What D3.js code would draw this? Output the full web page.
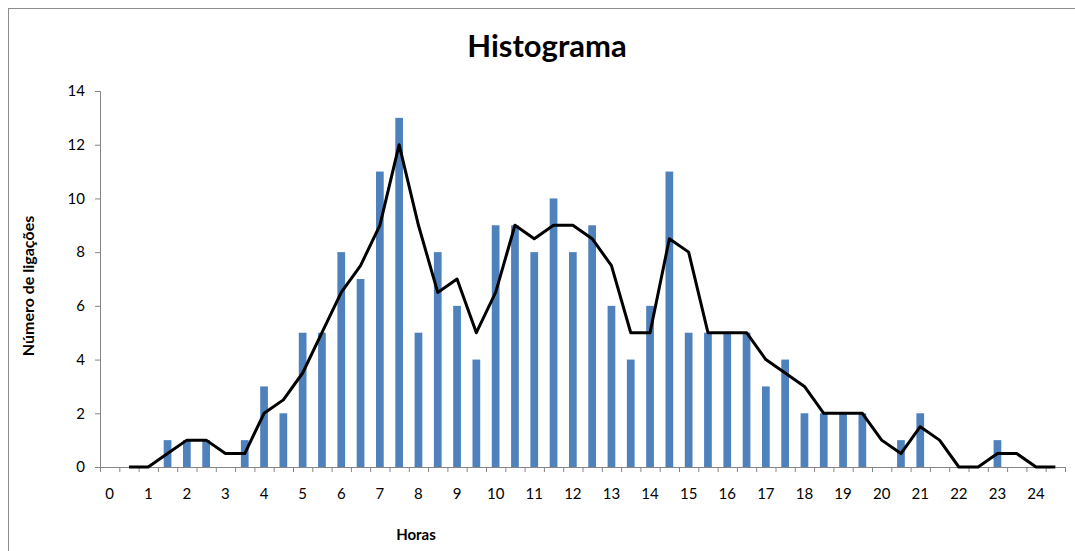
<!DOCTYPE html>
<html>
<head>
<meta charset="utf-8">
<script src="https://cdn.jsdelivr.net/npm/d3@7"></script>
<style>
  html, body { margin: 0; padding: 0; background: #fff; }
  svg { display: block; font-family: Lato, "Open Sans", sans-serif; }
</style>
</head>
<body>
<svg id="chart" width="1075" height="551"></svg>
<script>
// categories: half-hour bins
const hours = [0, 0.5, 1, 1.5, 2, 2.5, 3, 3.5, 4, 4.5, 5, 5.5, 6, 6.5, 7, 7.5, 8, 8.5, 9, 9.5,
  10, 10.5, 11, 11.5, 12, 12.5, 13, 13.5, 14, 14.5, 15, 15.5, 16, 16.5, 17, 17.5, 18, 18.5, 19, 19.5,
  20, 20.5, 21, 21.5, 22, 22.5, 23, 23.5, 24, 24.5];

// number of calls per bin (bars)
const counts = [0, 0, 0, 1, 1, 1, 0, 1, 3, 2, 5, 5, 8, 7, 11, 13, 5, 8, 6, 4,
  9, 9, 8, 10, 8, 9, 6, 4, 6, 11, 5, 5, 5, 5, 3, 4, 2, 2, 2, 2,
  0, 1, 2, 0, 0, 0, 1, 0, 0, 0];

// trend line (no point on the first bin)
const trend = [null, 0, 0, 0.5, 1, 1, 0.5, 0.5, 2, 2.5, 3.5, 5, 6.5, 7.5, 9, 12, 9, 6.5, 7, 5,
  6.5, 9, 8.5, 9, 9, 8.5, 7.5, 5, 5, 8.5, 8, 5, 5, 5, 4, 3.5, 3, 2, 2, 2,
  1, 0.5, 1.5, 1, 0, 0, 0.5, 0.5, 0, 0];

const yTicks = [0, 2, 4, 6, 8, 10, 12, 14];
const xLabels = [0, 1, 2, 3, 4, 5, 6, 7, 8, 9, 10, 11, 12, 13, 14, 15, 16, 17, 18, 19, 20, 21, 22, 23, 24];

const svg = d3.select("#chart");
const plotLeft = 100, plotRight = 1065, plotTop = 91, plotBottom = 467;
const axisColor = "#868686";

// outer frame of the chart
svg.append("rect")
  .attr("x", 8.5).attr("y", 8.5)
  .attr("width", 1100).attr("height", 600)
  .attr("fill", "none").attr("stroke", "#8c8c8c").attr("stroke-width", 1);

const x = d3.scaleBand().domain(hours).range([plotLeft, plotRight]).padding(0);
const xEdge = d3.scaleLinear().domain([0, hours.length]).range([plotLeft, plotRight]);
const y = d3.scaleLinear().domain([0, 14]).range([plotBottom, plotTop]);

// bars
svg.append("g").selectAll("rect")
  .data(hours)
  .join("rect")
  .attr("x", (h) => x(h) + x.bandwidth() * 0.3)
  .attr("width", x.bandwidth() * 0.4)
  .attr("y", (h, i) => y(counts[i]))
  .attr("height", (h, i) => y(0) - y(counts[i]))
  .attr("fill", "#4F81BD");

// y axis
const yAxis = svg.append("g")
  .attr("transform", `translate(${plotLeft},0)`)
  .call(d3.axisLeft(y).tickValues(yTicks).tickSize(5).tickPadding(10));
yAxis.select(".domain").attr("stroke", axisColor);
yAxis.selectAll(".tick line").attr("stroke", axisColor);
yAxis.selectAll(".tick text")
  .attr("font-size", 15).attr("fill", "#000")
  .attr("font-family", "Lato, sans-serif");

// x axis: tick marks on bin edges
const xTicks = svg.append("g")
  .attr("transform", `translate(0,${plotBottom})`)
  .call(d3.axisBottom(xEdge).tickValues(d3.range(0, hours.length + 1))
    .tickSize(5).tickFormat(""));
xTicks.select(".domain").attr("stroke", axisColor);
xTicks.selectAll(".tick line").attr("stroke", axisColor);

// x axis labels on whole hours
const xAxis = svg.append("g")
  .attr("transform", `translate(0,${plotBottom})`)
  .call(d3.axisBottom(x).tickValues(xLabels).tickSize(0).tickPadding(21));
xAxis.select(".domain").remove();
xAxis.selectAll(".tick text")
  .attr("font-size", 15).attr("fill", "#000")
  .attr("font-family", "Lato, sans-serif");

// trend line
const line = d3.line()
  .defined((d) => d.v !== null)
  .x((d) => x(d.h) + x.bandwidth() / 2)
  .y((d) => y(d.v));

svg.append("path")
  .datum(hours.map((h, i) => ({ h: h, v: trend[i] })))
  .attr("d", line)
  .attr("fill", "none")
  .attr("stroke", "#000")
  .attr("stroke-width", 3)
  .attr("stroke-linejoin", "round");

// titles
svg.append("text")
  .attr("x", 547).attr("y", 57)
  .attr("text-anchor", "middle")
  .attr("font-size", 31).attr("font-weight", "bold")
  .text("Histograma");

svg.append("text")
  .attr("x", 416).attr("y", 540)
  .attr("text-anchor", "middle")
  .attr("font-size", 15).attr("font-weight", "bold")
  .text("Horas");

svg.append("text")
  .attr("transform", "translate(34,286) rotate(-90)")
  .attr("text-anchor", "middle")
  .attr("font-size", 16).attr("font-weight", "bold")
  .text("Número de ligações");
</script>
</body>
</html>
